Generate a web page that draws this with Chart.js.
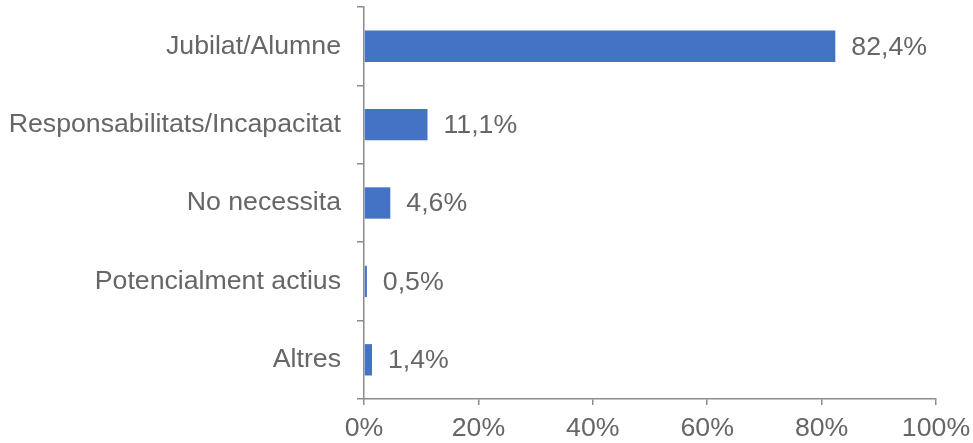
<!DOCTYPE html>
<html>
<head>
<meta charset="utf-8">
<script src="https://cdn.jsdelivr.net/npm/chart.js@4.4.0/dist/chart.umd.min.js"></script>
<style>
  html, body { margin: 0; padding: 0; background: #fff; }
  #wrap { width: 973px; height: 443px; }
</style>
</head>
<body>
<div id="wrap"><canvas id="grafic"></canvas></div>
<script>
// Categories i valors (%)
const categories = ['Jubilat/Alumne', 'Responsabilitats/Incapacitat', 'No necessita', 'Potencialment actius', 'Altres'];
const valors = [82.4, 11.1, 4.6, 0.5, 1.4];
const ticksX = [0, 20, 40, 60, 80, 100];

const grisText = '#666666';
const grisEix = '#8c8c8c';
const font = '"Liberation Sans", Arial, sans-serif';
const midaFont = 26.7;

// Etiquetes de valor a la dreta de cada barra
const etiquetes = {
    id: 'etiquetes',
    afterDatasetsDraw(chart) {
        const ctx = chart.ctx;
        const meta = chart.getDatasetMeta(0);
        ctx.save();
        ctx.font = midaFont + 'px ' + font;
        ctx.fillStyle = grisText;
        ctx.textBaseline = 'middle';
        ctx.textAlign = 'left';
        meta.data.forEach((bar, i) => {
            const txt = valors[i].toFixed(1).replace('.', ',') + '%';
            ctx.fillText(txt, bar.x + 16, bar.y + 1);
        });
        ctx.restore();
    }
};

new Chart(document.getElementById('grafic').getContext('2d'), {
    type: 'bar',
    data: {
        labels: categories,
        datasets: [{
            data: valors,
            backgroundColor: '#4472C4',
            barPercentage: 0.8,
            categoryPercentage: 0.5
        }]
    },
    options: {
        indexAxis: 'y',
        responsive: true,
        maintainAspectRatio: false,
        animation: false,
        layout: { padding: { top: 7, right: 37, left: 0, bottom: 0 } },
        plugins: {
            legend: { display: false },
            tooltip: { enabled: false }
        },
        scales: {
            x: {
                min: 0,
                max: 100,
                afterBuildTicks(scale) {
                    scale.ticks = ticksX.map(v => ({ value: v }));
                },
                afterFit(scale) {
                    scale.height = 44;
                    scale.paddingLeft = 0;
                    scale.paddingRight = 0;
                },
                border: { color: grisEix, width: 1.5 },
                grid: { drawOnChartArea: false, drawTicks: true, tickLength: 6, color: grisEix, lineWidth: 1.5 },
                ticks: {
                    color: grisText,
                    font: { size: midaFont, family: font },
                    padding: 8,
                    maxRotation: 0,
                    callback: v => v + '%'
                }
            },
            y: {
                afterFit(scale) {
                    scale.width = 364;
                    scale.paddingTop = 0;
                    scale.paddingBottom = 0;
                },
                border: { color: grisEix, width: 1.5 },
                grid: { offset: true, drawOnChartArea: false, drawTicks: true, tickLength: 7, color: grisEix, lineWidth: 1.5 },
                ticks: {
                    color: grisText,
                    font: { size: midaFont, family: font },
                    padding: 16
                }
            }
        }
    },
    plugins: [etiquetes]
});
</script>
</body>
</html>
